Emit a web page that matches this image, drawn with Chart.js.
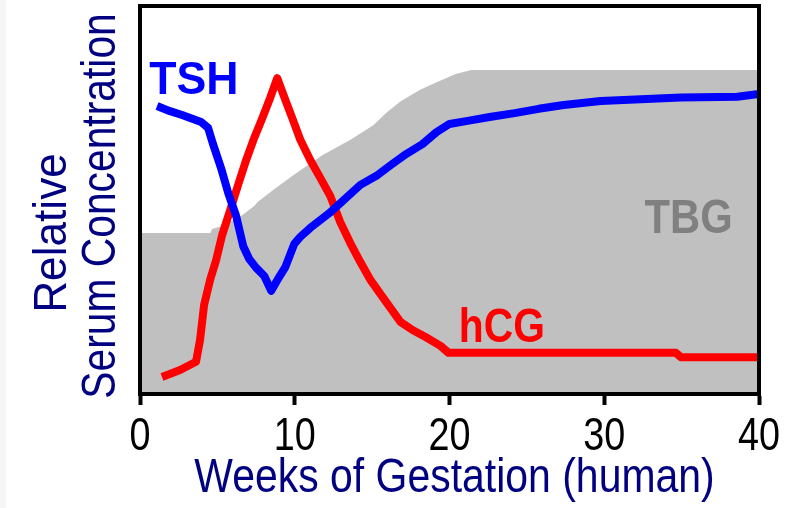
<!DOCTYPE html>
<html>
<head>
<meta charset="utf-8">
<script src="https://cdn.jsdelivr.net/npm/chart.js@4/dist/chart.umd.min.js"></script>
<style>
  html, body { margin: 0; padding: 0; background: #ffffff; }
  canvas { display: block; }
</style>
</head>
<body>
<canvas id="c" width="792" height="508"></canvas>
<script>
// ---- data ----
const xTicks = [0, 10, 20, 30, 40];
const xTickLabels = ['0', '10', '20', '30', '40'];

const tbgWeeks  = [0, 4.55, 4.65, 5.3, 6.6, 7.4, 7.6, 8.6, 9.9, 11.8, 13.6, 15.1, 15.9, 16.8, 18.1, 19.2, 20.4, 21.4, 40];
const tbgValues = [41.5, 41.5, 42.5, 43.3, 46.1, 48.5, 49.5, 52.6, 56.4, 61.6, 65.5, 69.3, 72.4, 75.3, 78.4, 80.4, 82.5, 83.5, 83.5];

const tshWeeks  = [1.1, 1.94, 2.72, 3.95, 4.40, 4.72, 5.24, 5.70, 6.21, 6.67, 7.06, 7.51, 8.03, 8.48, 9.00, 9.39, 9.97, 10.36, 11.00, 12.23, 14.24, 15.34, 16.31, 17.22, 18.25, 19.16, 20.0, 21.17, 22.59, 24.21, 25.76, 27.38, 29.77, 34.95, 38.6, 40];
const tshValues = [74.2, 72.9, 71.9, 70.1, 68.6, 64.4, 58.2, 51.8, 45.9, 38.1, 34.8, 32.5, 30.4, 26.6, 30.2, 32.7, 38.7, 40.5, 42.8, 46.6, 53.9, 56.4, 59.3, 61.9, 64.4, 67.5, 69.6, 70.4, 71.4, 72.4, 73.5, 74.5, 75.5, 76.4, 76.6, 77.3];

const hcgWeeks  = [1.42, 2.59, 3.62, 3.88, 4.14, 4.53, 4.92, 5.31, 5.83, 6.34, 6.86, 7.38, 7.90, 8.41, 8.87, 9.39, 9.84, 10.36, 11.0, 11.65, 12.3, 12.94, 13.59, 14.24, 14.89, 15.53, 16.18, 16.83, 17.61, 18.45, 19.42, 19.94, 34.63, 34.95, 40];
const hcgValues = [4.4, 6.2, 8.3, 13.9, 22.9, 29.4, 34.5, 41.0, 47.4, 53.9, 60.3, 66.0, 71.1, 76.3, 81.4, 75.8, 71.1, 65.5, 60.3, 55.7, 51.0, 44.3, 38.9, 34.0, 29.4, 25.8, 22.2, 18.6, 16.5, 14.7, 12.4, 10.6, 10.6, 9.5, 9.5];

// series labels placed in the plot (week, value at text baseline-left)
const seriesLabels = [
  { text: 'TSH', week: 0.6,  value: 77.3, color: '#0000ff', size: 46, sx: 0.97 },
  { text: 'hCG', week: 20.6, value: 13.4, color: '#ff0000', size: 48, sx: 0.85 },
  { text: 'TBG', week: 32.6, value: 41.5, color: '#808080', size: 48, sx: 0.87 }
];

const yTitleLines = ['Relative', 'Serum Concentration'];
const xTitle = 'Weeks of Gestation (human)';

const toPoints = (xs, ys) => xs.map((x, i) => ({ x: x, y: ys[i] }));

const FONT = '"Liberation Sans", Arial, Helvetica, sans-serif';

function drawScaledText(ctx, text, x, y, sx, rot) {
  ctx.save();
  ctx.translate(x, y);
  if (rot) ctx.rotate(rot);
  ctx.scale(sx, 1);
  ctx.fillText(text, 0, 0);
  ctx.restore();
}

const textPlugin = {
  id: 'texts',
  beforeDraw(chart) {
    const ctx = chart.ctx;
    ctx.save();
    ctx.fillStyle = '#f6f6f6';
    ctx.fillRect(0, 0, 6, chart.height);
    ctx.restore();
  },
  afterDatasetsDraw(chart) {
    const { ctx, chartArea: a, scales } = chart;
    ctx.save();
    ctx.textAlign = 'left';
    ctx.textBaseline = 'alphabetic';
    seriesLabels.forEach(l => {
      ctx.font = 'bold ' + l.size + 'px ' + FONT;
      ctx.fillStyle = l.color;
      drawScaledText(ctx, l.text, scales.x.getPixelForValue(l.week), scales.y.getPixelForValue(l.value), l.sx, 0);
    });
    ctx.strokeStyle = '#000000';
    ctx.lineWidth = 4;
    ctx.strokeRect(a.left, a.top, a.right - a.left, a.bottom - a.top);
    ctx.restore();
  },
  afterDraw(chart) {
    const { ctx, chartArea: a, scales } = chart;
    const cy = (a.top + a.bottom) / 2;
    ctx.save();
    ctx.textBaseline = 'alphabetic';
    ctx.textAlign = 'center';
    // x tick labels
    ctx.fillStyle = '#000000';
    ctx.font = '46px ' + FONT;
    xTicks.forEach((v, i) => {
      drawScaledText(ctx, xTickLabels[i], scales.x.getPixelForValue(v), a.bottom + 56, 0.82, 0);
    });
    // x title
    ctx.fillStyle = '#000080';
    ctx.font = '48px ' + FONT;
    drawScaledText(ctx, xTitle, (a.left + a.right) / 2 + 5, a.bottom + 98, 0.853, 0);
    // y title lines
    ctx.font = '46px ' + FONT;
    drawScaledText(ctx, yTitleLines[0], a.left - 74, cy + 33, 0.96, -Math.PI / 2);
    ctx.font = '48px ' + FONT;
    drawScaledText(ctx, yTitleLines[1], a.left - 25, cy + 6, 0.85, -Math.PI / 2);
    ctx.restore();
  }
};

new Chart(document.getElementById('c'), {
  type: 'line',
  data: {
    datasets: [
      {
        label: 'TSH',
        data: toPoints(tshWeeks, tshValues),
        borderColor: '#0000ff',
        borderWidth: 8,
        borderJoinStyle: 'round',
        borderCapStyle: 'butt',
        pointRadius: 0,
        fill: false,
        tension: 0,
        order: 1
      },
      {
        label: 'hCG',
        data: toPoints(hcgWeeks, hcgValues),
        borderColor: '#ff0000',
        borderWidth: 8,
        borderJoinStyle: 'round',
        borderCapStyle: 'butt',
        pointRadius: 0,
        fill: false,
        tension: 0,
        order: 2
      },
      {
        label: 'TBG',
        data: toPoints(tbgWeeks, tbgValues),
        borderWidth: 0,
        borderColor: 'rgba(0,0,0,0)',
        backgroundColor: '#c0c0c0',
        pointRadius: 0,
        fill: 'start',
        tension: 0,
        order: 3
      }
    ]
  },
  options: {
    responsive: false,
    animation: false,
    devicePixelRatio: 1,
    layout: { padding: { left: 140, right: 33, top: 6, bottom: 103 } },
    plugins: {
      legend: { display: false },
      tooltip: { enabled: false },
      title: { display: false }
    },
    scales: {
      x: {
        type: 'linear',
        min: 0,
        max: 40,
        afterBuildTicks: axis => { axis.ticks = xTicks.map(v => ({ value: v })); },
        ticks: { display: false },
        grid: {
          drawOnChartArea: false,
          drawTicks: true,
          tickLength: 11,
          tickWidth: 4,
          tickColor: '#000000',
          color: '#000000'
        },
        border: { display: true, color: '#000000', width: 4 },
        title: { display: false }
      },
      y: {
        display: false,
        min: 0,
        max: 100
      }
    }
  },
  plugins: [textPlugin]
});
</script>
</body>
</html>
